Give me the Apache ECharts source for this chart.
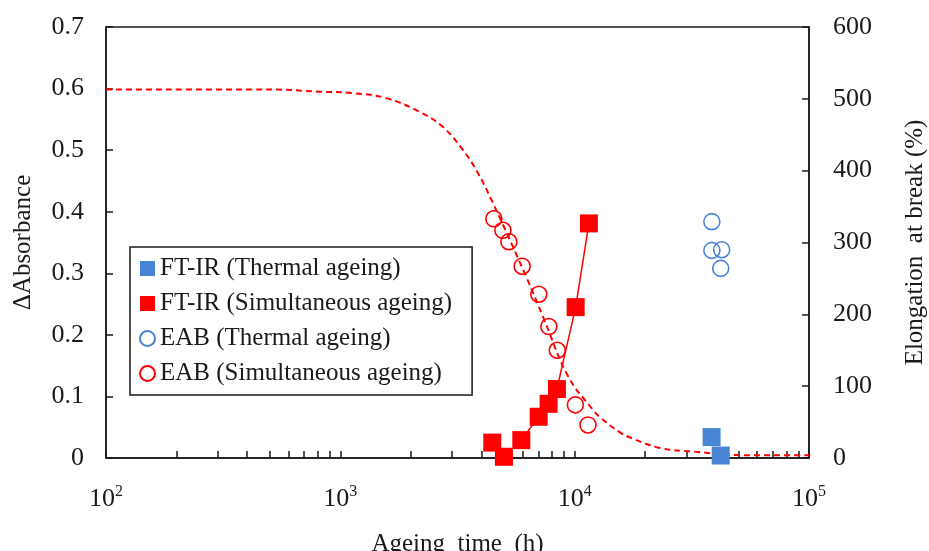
<!DOCTYPE html>
<html>
<head>
<meta charset="utf-8">
<title>Ageing time vs absorbance / EAB</title>
<script src="https://cdn.jsdelivr.net/npm/echarts@6/dist/echarts.min.js"></script>
<style>
  html, body { margin: 0; padding: 0; background: #fff; }
  #chart { width: 929px; height: 551px; }
</style>
</head>
<body>
<div id="chart"></div>
<script>
// FT-IR, thermal ageing (delta absorbance)
const ftirThermalTime = [38400, 42000];
const ftirThermalAbs = [0.034, 0.004];
// FT-IR, simultaneous ageing
const ftirSimTime = [4450, 4990, 5920, 7020, 7740, 8400, 10100, 11500];
const ftirSimAbs = [0.025, 0.002, 0.029, 0.067, 0.088, 0.112, 0.245, 0.381];
// solid fitted line through the simultaneous FT-IR points
const fitTime = [5920, 7020, 7740, 8400, 10100, 11500];
const fitAbs = [0.029, 0.067, 0.088, 0.112, 0.245, 0.381];
// EAB (%), thermal ageing
const eabThermalTime = [38500, 38500, 42400, 42000];
const eabThermal = [329, 289, 290, 264];
// EAB (%), simultaneous ageing
const eabSimTime = [4520, 4940, 5240, 5970, 7030, 7760, 8430, 10070, 11400];
const eabSim = [333, 317, 301, 267, 228, 183, 150, 74, 46];
// dashed EAB model curve
const curveTime = [100, 500, 813, 1129, 1567, 2176, 2736, 3333, 3800, 4480, 6218, 7318, 9400, 11970, 12790, 15560, 17700, 23080, 32030, 52360, 100000];
const curveEab = [513, 513, 510, 508, 501, 482, 461, 429, 401, 355, 252, 197, 113, 67, 57, 36, 27, 14, 9, 4, 4];
// ticks
const xLabelValues = [100, 1000, 10000, 100000];
const xTickValues = [];
[100, 1000, 10000].forEach(d => { for (let k = 1; k <= 9; k++) xTickValues.push(d * k); });
xTickValues.push(100000);

const RED = '#ff0000';
const BLUE = '#4a84d4';
const INK = '#1a1a1a';
const FONT = 'Liberation Serif';

const zip = (xs, ys) => xs.map((x, i) => [x, ys[i]]);

const chart = echarts.init(document.getElementById('chart'));
const option = {
  animation: false,
  textStyle: { fontFamily: FONT, color: INK },
  grid: {
    left: 106, right: 120, top: 27, bottom: 93,
    outerBoundsMode: 'none',
    show: true, borderColor: INK, borderWidth: 1.5
  },
  legend: {
    orient: 'vertical',
    left: 130, top: 247,
    padding: [9, 20, 9, 9],
    itemGap: 10,
    itemWidth: 15, itemHeight: 15,
    borderColor: INK, borderWidth: 1.5,
    textStyle: { fontFamily: FONT, fontSize: 25, lineHeight: 25, color: INK },
    data: ['FT-IR (Thermal ageing)', 'FT-IR (Simultaneous ageing)', 'EAB (Thermal ageing)', 'EAB (Simultaneous ageing)']
  },
  xAxis: {
    type: 'log', logBase: 10, min: 100, max: 100000,
    name: 'Ageing  time  (h)', nameLocation: 'middle', nameGap: 74,
    nameTextStyle: { fontFamily: FONT, fontSize: 25, color: INK },
    axisLine: { lineStyle: { color: INK, width: 1.5 } },
    axisTick: { inside: true, length: 7, customValues: xTickValues, lineStyle: { color: INK, width: 1.5 } },
    axisLabel: {
      customValues: xLabelValues, margin: 26,
      formatter: v => '{b|10}{s|' + Math.round(Math.log10(v)) + '}',
      rich: {
        b: { fontFamily: FONT, fontSize: 26, color: INK },
        s: { fontFamily: FONT, fontSize: 16, color: INK, verticalAlign: 'top', padding: [0, 0, 14, 0] }
      }
    },
    splitLine: { show: false }
  },
  yAxis: [{
    type: 'value', min: 0, max: 0.7, interval: 0.1,
    name: 'ΔAbsorbance', nameLocation: 'middle', nameGap: 70,
    nameTextStyle: { fontFamily: FONT, fontSize: 25, color: INK },
    axisLine: { show: true, lineStyle: { color: INK, width: 1.5 } },
    axisTick: { show: true, inside: true, length: 7, lineStyle: { color: INK, width: 1.5 } },
    axisLabel: { fontFamily: FONT, fontSize: 26, color: INK, margin: 22 },
    splitLine: { show: false }
  }, {
    type: 'value', min: 0, max: 600, interval: 100, position: 'right',
    name: 'Elongation  at break (%)', nameLocation: 'middle', nameGap: 94,
    nameTextStyle: { fontFamily: FONT, fontSize: 25, color: INK },
    axisLine: { show: true, lineStyle: { color: INK, width: 1.5 } },
    axisTick: { show: true, inside: true, length: 7, lineStyle: { color: INK, width: 1.5 } },
    axisLabel: { fontFamily: FONT, fontSize: 26, color: INK, margin: 24 },
    splitLine: { show: false }
  }],
  series: [
    {
      name: 'EAB model', type: 'line', yAxisIndex: 1,
      data: zip(curveTime, curveEab), smooth: 0.4, symbol: 'none',
      lineStyle: { color: RED, width: 2, type: [6, 4] }, z: 1
    },
    {
      name: 'EAB (Thermal ageing)', type: 'scatter', yAxisIndex: 1,
      data: zip(eabThermalTime, eabThermal), symbol: 'circle', symbolSize: 16,
      itemStyle: { color: 'rgba(255,255,255,0)', borderColor: BLUE, borderWidth: 1.6, opacity: 1 }, z: 2
    },
    {
      name: 'EAB (Simultaneous ageing)', type: 'scatter', yAxisIndex: 1,
      data: zip(eabSimTime, eabSim), symbol: 'circle', symbolSize: 16,
      itemStyle: { color: 'rgba(255,255,255,0)', borderColor: RED, borderWidth: 1.6, opacity: 1 }, z: 2
    },
    {
      name: 'FT-IR fit', type: 'line', yAxisIndex: 0,
      data: zip(fitTime, fitAbs), symbol: 'none',
      lineStyle: { color: RED, width: 1.5 }, z: 3
    },
    {
      name: 'FT-IR (Thermal ageing)', type: 'scatter', yAxisIndex: 0,
      data: zip(ftirThermalTime, ftirThermalAbs), symbol: 'rect', symbolSize: 18,
      itemStyle: { color: BLUE, opacity: 1 }, z: 4
    },
    {
      name: 'FT-IR (Simultaneous ageing)', type: 'scatter', yAxisIndex: 0,
      data: zip(ftirSimTime, ftirSimAbs), symbol: 'rect', symbolSize: 18,
      itemStyle: { color: RED, opacity: 1 }, z: 4
    }
  ]
};
chart.setOption(option);
</script>
</body>
</html>
